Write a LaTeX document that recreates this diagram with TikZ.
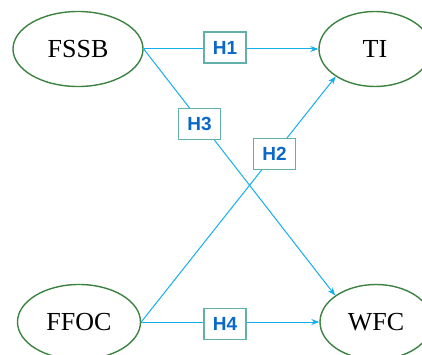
\documentclass[tikz,border=0pt]{standalone}
\usepackage{fontspec}
\setmainfont{Liberation Serif}
\setsansfont{Liberation Sans}
\usetikzlibrary{shapes.geometric,arrows.meta}
\definecolor{ellgreen}{RGB}{60,130,65}
\definecolor{linkblue}{RGB}{20,175,235}
\definecolor{boxteal}{RGB}{100,175,170}
\definecolor{hblue}{RGB}{10,105,200}
\tikzset{
  var/.style={ellipse,draw=ellgreen,line width=1.4pt,minimum width=#1,minimum height=75pt,inner sep=0pt,
    font=\fontsize{26}{26}\selectfont},
  hbox/.style={draw=boxteal,line width=1.4pt,fill=white,minimum width=42pt,minimum height=31pt,inner sep=0pt,
    font=\sffamily\bfseries\fontsize{19}{19}\selectfont,text=hblue},
  link/.style={draw=linkblue,line width=1pt,-{Stealth[length=8pt,width=6pt]}}
}
\begin{document}
\begin{tikzpicture}[x=1pt,y=-1pt]
\useasboundingbox (0,0) rectangle (422,355);
\clip (0,0) rectangle (422,355);
\node[var=130pt] (fssb) at (78,49) {FSSB};
\node[var=112pt] (ti) at (375,49) {TI};
\node[var=123pt] (ffoc) at (79,322) {FFOC};
\node[var=112pt] (wfc) at (376,322) {WFC};
\draw[link] (fssb.east) -- (ti.west);
\draw[link] (fssb.east) -- (wfc.147);
\draw[link] (ffoc.east) -- (ti.215);
\draw[link] (ffoc.east) -- (wfc.west);
\node[hbox] (h1) at (225,47.5) {H1};
\node[hbox] (h3) at (199.5,124) {H3};
\node[hbox] (h2) at (274.5,154) {H2};
\node[hbox] (h4) at (225,324) {H4};
\end{tikzpicture}
\end{document}
